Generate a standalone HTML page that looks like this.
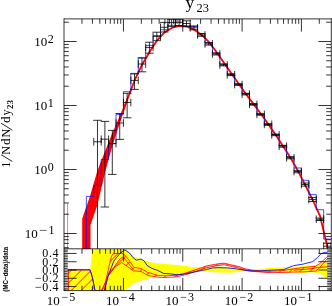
<!DOCTYPE html>
<html><head><meta charset="utf-8"><title>y23</title>
<style>
html,body{margin:0;padding:0;background:#fff;}
body{width:332px;height:306px;overflow:hidden;font-family:"Liberation Serif",serif;}
svg{display:block;will-change:transform;}
</style></head>
<body>
<svg width="332" height="306" viewBox="0 0 332 306">
<rect x="0" y="0" width="332" height="306" fill="#fff"/>
<polygon points="90.2,269.7 92.3,248.9 125.8,248.9 130,252.8 134.9,257 142.1,259 148,261.2 154,262.7 162,263.5 174,264.6 184.4,265.6 193.8,267 201.7,267.4 211,267 220,266.6 229.4,267.3 238.8,268.5 246.7,269.3 254.5,269.3 262.4,268.5 270,267.4 284,267.3 295.4,266.4 306.8,265.4 318.2,264.5 322,262.6 327.5,261.2 327.5,278.3 324.8,276.8 320,273 312.5,272 303,272.4 284,272 270,271.7 262.4,271.4 254.5,270.9 246.7,271.2 238.8,271.7 229.4,272.5 220,272.3 215.8,272.1 206.4,271.6 198.5,271.6 190.7,272.4 182.8,274 175,275.3 162,276 158,276 151.7,277.1 145.7,278.9 139.7,280.7 133.7,283.1 128.8,287.3 124.6,290.5 67.8,290.5 67.8,269.7" fill="#ffff00" stroke="none" stroke-width="0" transform="translate(0,0.25)"/>
<clipPath id="cr"><rect x="64" y="248.9" width="267" height="41.6"/></clipPath>
<clipPath id="cb"><polygon points="67.8,269.7 90,269.7 92,275 95,290.5 101.3,290.5 105.3,282.6 109.2,265.4 111.5,256 113,253.6 121.7,252.8 125,255 129.6,260.7 133.9,267.2 139.4,268 142.5,269 147.3,272 153.5,273.8 158.2,275.3 166,275.6 175,275.2 182.8,273.6 190.7,271.1 198.5,268.4 206.4,265.7 214.2,264.2 222,263 224.7,263 231,264.6 238.8,266.3 245.1,268.6 251.4,269.8 259.2,270.4 267,271 275,270.8 284,270.2 293.5,268.6 303,267.3 315.3,266 319.4,263.6 327.5,256.3 327.5,258.2 318.8,268.4 315.3,270.9 303,271.7 293.5,271.8 284,272.2 275,272.3 267,272.3 259.2,271.6 251.4,271.1 245.1,270 238.8,267.8 231,266.1 224.7,264.6 222,264.7 214.2,265.9 206.4,267.5 198.5,270.2 190.7,272.9 182.8,275.2 175,276.8 169.2,277 161.4,277.3 155.1,276.5 148,275.2 141,271.2 133.5,270.6 127.2,266.2 121.7,262.3 115.5,266.2 107.6,276.4 104,290.5 95,290.5 67.8,290.5"/></clipPath>
<g clip-path="url(#cr)"><g transform="translate(0,0.25)">
<g clip-path="url(#cb)">
<rect x="176" y="248" width="94" height="44" fill="#ff0000" fill-opacity="0.3"/>
<line x1="61.3" y1="240" x2="1.3" y2="300" stroke="#ff0000" stroke-width="0.9" />
<line x1="71.3" y1="240" x2="11.3" y2="300" stroke="#ff0000" stroke-width="0.9" />
<line x1="81.3" y1="240" x2="21.3" y2="300" stroke="#ff0000" stroke-width="0.9" />
<line x1="91.3" y1="240" x2="31.3" y2="300" stroke="#ff0000" stroke-width="0.9" />
<line x1="101.3" y1="240" x2="41.3" y2="300" stroke="#ff0000" stroke-width="0.9" />
<line x1="111.3" y1="240" x2="51.3" y2="300" stroke="#ff0000" stroke-width="0.9" />
<line x1="121.3" y1="240" x2="61.3" y2="300" stroke="#ff0000" stroke-width="0.9" />
<line x1="131.3" y1="240" x2="71.3" y2="300" stroke="#ff0000" stroke-width="0.9" />
<line x1="141.3" y1="240" x2="81.3" y2="300" stroke="#ff0000" stroke-width="0.9" />
<line x1="151.3" y1="240" x2="91.3" y2="300" stroke="#ff0000" stroke-width="0.9" />
<line x1="161.3" y1="240" x2="101.3" y2="300" stroke="#ff0000" stroke-width="0.9" />
<line x1="171.3" y1="240" x2="111.3" y2="300" stroke="#ff0000" stroke-width="0.9" />
<line x1="181.3" y1="240" x2="121.3" y2="300" stroke="#ff0000" stroke-width="0.9" />
<line x1="191.3" y1="240" x2="131.3" y2="300" stroke="#ff0000" stroke-width="0.9" />
<line x1="201.3" y1="240" x2="141.3" y2="300" stroke="#ff0000" stroke-width="0.9" />
<line x1="211.3" y1="240" x2="151.3" y2="300" stroke="#ff0000" stroke-width="0.9" />
<line x1="221.3" y1="240" x2="161.3" y2="300" stroke="#ff0000" stroke-width="0.9" />
<line x1="231.3" y1="240" x2="171.3" y2="300" stroke="#ff0000" stroke-width="0.9" />
<line x1="241.3" y1="240" x2="181.3" y2="300" stroke="#ff0000" stroke-width="0.9" />
<line x1="251.3" y1="240" x2="191.3" y2="300" stroke="#ff0000" stroke-width="0.9" />
<line x1="261.3" y1="240" x2="201.3" y2="300" stroke="#ff0000" stroke-width="0.9" />
<line x1="271.3" y1="240" x2="211.3" y2="300" stroke="#ff0000" stroke-width="0.9" />
<line x1="281.3" y1="240" x2="221.3" y2="300" stroke="#ff0000" stroke-width="0.9" />
<line x1="291.3" y1="240" x2="231.3" y2="300" stroke="#ff0000" stroke-width="0.9" />
<line x1="301.3" y1="240" x2="241.3" y2="300" stroke="#ff0000" stroke-width="0.9" />
<line x1="311.3" y1="240" x2="251.3" y2="300" stroke="#ff0000" stroke-width="0.9" />
<line x1="321.3" y1="240" x2="261.3" y2="300" stroke="#ff0000" stroke-width="0.9" />
<line x1="331.3" y1="240" x2="271.3" y2="300" stroke="#ff0000" stroke-width="0.9" />
<line x1="341.3" y1="240" x2="281.3" y2="300" stroke="#ff0000" stroke-width="0.9" />
<line x1="351.3" y1="240" x2="291.3" y2="300" stroke="#ff0000" stroke-width="0.9" />
<line x1="361.3" y1="240" x2="301.3" y2="300" stroke="#ff0000" stroke-width="0.9" />
<line x1="371.3" y1="240" x2="311.3" y2="300" stroke="#ff0000" stroke-width="0.9" />
<line x1="381.3" y1="240" x2="321.3" y2="300" stroke="#ff0000" stroke-width="0.9" />
<line x1="391.3" y1="240" x2="331.3" y2="300" stroke="#ff0000" stroke-width="0.9" />
</g>
<polyline points="67.8,269.7 90,269.7 92,275 95,290.5 101.3,290.5 105.3,282.6 109.2,265.4 111.5,256 113,253.6 121.7,252.8 125,255 129.6,260.7 133.9,267.2 139.4,268 142.5,269 147.3,272 153.5,273.8 158.2,275.3 166,275.6 175,275.2 182.8,273.6 190.7,271.1 198.5,268.4 206.4,265.7 214.2,264.2 222,263 224.7,263 231,264.6 238.8,266.3 245.1,268.6 251.4,269.8 259.2,270.4 267,271 275,270.8 284,270.2 293.5,268.6 303,267.3 315.3,266 319.4,263.6 327.5,256.3" stroke="#ff0000" stroke-width="0.8" fill="none" />
<polyline points="104,290.5 107.6,276.4 115.5,266.2 121.7,262.3 127.2,266.2 133.5,270.6 141,271.2 148,275.2 155.1,276.5 161.4,277.3 169.2,277 175,276.8 182.8,275.2 190.7,272.9 198.5,270.2 206.4,267.5 214.2,265.9 222,264.7 224.7,264.6 231,266.1 238.8,267.8 245.1,270 251.4,271.1 259.2,271.6 267,272.3 275,272.3 284,272.2 293.5,271.8 303,271.7 315.3,270.9 318.8,268.4 327.5,258.2" stroke="#ff0000" stroke-width="0.8" fill="none" />
<polyline points="102,290.5 107.6,276.4 116.2,263.8 120.2,258.3 123.3,256.8 128.8,263.8 133.5,269.3" stroke="#ff0000" stroke-width="0.8" fill="none" />
<line x1="68.4" y1="269.7" x2="68.4" y2="290.5" stroke="#ff0000" stroke-width="0.9" />
<polyline points="293.5,269.9 303,269.2 311.8,268.4 317.6,267.2 327.5,266.6" stroke="#ff0000" stroke-width="0.9" fill="none" />
<polyline points="67.8,269.5 90,269.5 92.7,278.7 95,290.5 104.5,290.5 108.4,274.8 113.9,260.7 120.2,252.8 124.9,249.7 129.6,252.8 133.1,257.5 136.3,259.9 141,258.8 144.1,260.7 147.3,265.4 152,268.2 157.5,270.1 163.7,273.2 170.8,273.7 177,274.5 182.8,274 190.7,272.5 198.5,270.9 206.4,269.3 212.6,267.7 218.9,267.4 227.8,267.7 235.7,268.5 243.5,269.8 251.4,270.6 259.2,270.9 267,270.1 275,269.8 284,269.2 293.5,265.4 303,263.9 312.9,261.3 317.6,257.2 321.2,253.3 325.3,252.1 327.5,252" stroke="#0000ff" stroke-width="0.85" fill="none" />
</g></g>
<clipPath id="cm"><rect x="64" y="19" width="267" height="230"/></clipPath>
<g clip-path="url(#cm)">
<polygon points="82.2,249 82.2,218.5 90.06,196 97.5,170.5 104.9,151.5 112.3,133 119.8,116 127.2,97.3 127.2,101.5 119.8,123.3 112.3,146.3 104.9,173 97.5,204.7 90.5,225 90.5,249" fill="#ff0000" stroke="none" stroke-width="0" />
<polyline points="123.5,110 127.2,99.7 134.65,80.2 142.07,64.7 149.5,52 156.9,40.6 164.3,32.6 171.75,27.9 179.2,25.9 186.6,26.5 194,29.6 201.4,34.7 208.85,41.9 216.3,51.7 223.7,62.4 231.1,73 238.5,83.5 245.9,94 253.4,103.9 260.8,113.7 268.2,124 275.6,134.8 283,145.9 290.4,157.6 297.9,170.6 305.3,185.3 312.7,200 320.1,216.2 327.5,247" stroke="#ff0000" stroke-width="1.8" fill="none" stroke-linejoin="round"/>
<line x1="67.6" y1="203.5" x2="67.6" y2="249" stroke="#ff5050" stroke-width="0.8" />
<polyline points="86.35,249 86.35,196.4 93.76,196.4 93.76,185.3 101.18,185.3 101.18,159.4 108.6,159.4 108.6,143.7 116.01,143.7 116.01,114.6 123.43,114.6 123.43,91.7 130.85,91.7 130.85,73.4 138.26,73.4 138.26,58.1 145.68,58.1 145.68,45.4 153.09,45.4 153.09,35.6 160.51,35.6 160.51,29.7 167.93,29.7 167.93,25.3 175.34,25.3 175.34,25.6 182.76,25.6 182.76,26 190.18,26 190.18,26.5 197.59,26.5 197.59,33.5 205.01,33.5 205.01,42.5 212.42,42.5 212.42,53 219.84,53 219.84,64 227.26,64 227.26,74 234.67,74 234.67,84 242.09,84 242.09,93.6 249.51,93.6 249.51,104 256.92,104 256.92,114.8 264.34,114.8 264.34,125.2 271.75,125.2 271.75,134.5 279.17,134.5 279.17,145.4 286.59,145.4 286.59,157 294,157 294,168 301.42,168 301.42,180.3 308.84,180.3 308.84,194.6 316.25,194.6 316.25,209.7 323.67,209.7 323.67,239.1 331.09,239.1" stroke="#0000ff" stroke-width="0.7" fill="none" />
<line x1="93.76" y1="141.8" x2="101.18" y2="141.8" stroke="#000" stroke-width="0.8" />
<line x1="93.76" y1="138" x2="93.76" y2="145.6" stroke="#000" stroke-width="0.8" />
<line x1="101.18" y1="138" x2="101.18" y2="145.6" stroke="#000" stroke-width="0.8" />
<line x1="97.47" y1="120.3" x2="97.47" y2="260" stroke="#000" stroke-width="0.8" />
<line x1="93.17" y1="120.3" x2="101.77" y2="120.3" stroke="#000" stroke-width="0.8" />
<line x1="93.17" y1="260" x2="101.77" y2="260" stroke="#000" stroke-width="0.8" />
<line x1="101.18" y1="139.2" x2="108.6" y2="139.2" stroke="#000" stroke-width="0.8" />
<line x1="101.18" y1="135.4" x2="101.18" y2="143" stroke="#000" stroke-width="0.8" />
<line x1="108.6" y1="135.4" x2="108.6" y2="143" stroke="#000" stroke-width="0.8" />
<line x1="104.89" y1="121.4" x2="104.89" y2="207" stroke="#000" stroke-width="0.8" />
<line x1="100.59" y1="121.4" x2="109.19" y2="121.4" stroke="#000" stroke-width="0.8" />
<line x1="100.59" y1="207" x2="109.19" y2="207" stroke="#000" stroke-width="0.8" />
<line x1="108.6" y1="143.6" x2="116.01" y2="143.6" stroke="#000" stroke-width="0.8" />
<line x1="108.6" y1="139.8" x2="108.6" y2="147.4" stroke="#000" stroke-width="0.8" />
<line x1="116.01" y1="139.8" x2="116.01" y2="147.4" stroke="#000" stroke-width="0.8" />
<line x1="112.31" y1="130.4" x2="112.31" y2="174.4" stroke="#000" stroke-width="0.8" />
<line x1="108.01" y1="130.4" x2="116.61" y2="130.4" stroke="#000" stroke-width="0.8" />
<line x1="108.01" y1="174.4" x2="116.61" y2="174.4" stroke="#000" stroke-width="0.8" />
<line x1="116.01" y1="123" x2="123.43" y2="123" stroke="#000" stroke-width="0.8" />
<line x1="116.01" y1="119.2" x2="116.01" y2="126.8" stroke="#000" stroke-width="0.8" />
<line x1="123.43" y1="119.2" x2="123.43" y2="126.8" stroke="#000" stroke-width="0.8" />
<line x1="119.72" y1="113.5" x2="119.72" y2="139.4" stroke="#000" stroke-width="0.8" />
<line x1="115.42" y1="113.5" x2="124.02" y2="113.5" stroke="#000" stroke-width="0.8" />
<line x1="115.42" y1="139.4" x2="124.02" y2="139.4" stroke="#000" stroke-width="0.8" />
<line x1="123.43" y1="102.5" x2="130.85" y2="102.5" stroke="#000" stroke-width="0.8" />
<line x1="123.43" y1="98.7" x2="123.43" y2="106.3" stroke="#000" stroke-width="0.8" />
<line x1="130.85" y1="98.7" x2="130.85" y2="106.3" stroke="#000" stroke-width="0.8" />
<line x1="127.14" y1="93.3" x2="127.14" y2="117.8" stroke="#000" stroke-width="0.8" />
<line x1="122.84" y1="93.3" x2="131.44" y2="93.3" stroke="#000" stroke-width="0.8" />
<line x1="122.84" y1="117.8" x2="131.44" y2="117.8" stroke="#000" stroke-width="0.8" />
<line x1="130.85" y1="80.4" x2="138.26" y2="80.4" stroke="#000" stroke-width="0.8" />
<line x1="130.85" y1="76.6" x2="130.85" y2="84.2" stroke="#000" stroke-width="0.8" />
<line x1="138.26" y1="76.6" x2="138.26" y2="84.2" stroke="#000" stroke-width="0.8" />
<line x1="134.55" y1="73.9" x2="134.55" y2="89.4" stroke="#000" stroke-width="0.8" />
<line x1="130.25" y1="73.9" x2="138.85" y2="73.9" stroke="#000" stroke-width="0.8" />
<line x1="130.25" y1="89.4" x2="138.85" y2="89.4" stroke="#000" stroke-width="0.8" />
<line x1="138.26" y1="64" x2="145.68" y2="64" stroke="#000" stroke-width="0.8" />
<line x1="138.26" y1="60.2" x2="138.26" y2="67.8" stroke="#000" stroke-width="0.8" />
<line x1="145.68" y1="60.2" x2="145.68" y2="67.8" stroke="#000" stroke-width="0.8" />
<line x1="141.97" y1="57.8" x2="141.97" y2="71.8" stroke="#000" stroke-width="0.8" />
<line x1="137.67" y1="57.8" x2="146.27" y2="57.8" stroke="#000" stroke-width="0.8" />
<line x1="137.67" y1="71.8" x2="146.27" y2="71.8" stroke="#000" stroke-width="0.8" />
<line x1="145.68" y1="47.4" x2="153.09" y2="47.4" stroke="#000" stroke-width="0.8" />
<line x1="145.68" y1="43.6" x2="145.68" y2="51.2" stroke="#000" stroke-width="0.8" />
<line x1="153.09" y1="43.6" x2="153.09" y2="51.2" stroke="#000" stroke-width="0.8" />
<line x1="149.39" y1="42.2" x2="149.39" y2="53.2" stroke="#000" stroke-width="0.8" />
<line x1="145.09" y1="42.2" x2="153.69" y2="42.2" stroke="#000" stroke-width="0.8" />
<line x1="145.09" y1="53.2" x2="153.69" y2="53.2" stroke="#000" stroke-width="0.8" />
<line x1="153.09" y1="36.4" x2="160.51" y2="36.4" stroke="#000" stroke-width="0.8" />
<line x1="153.09" y1="32.6" x2="153.09" y2="40.2" stroke="#000" stroke-width="0.8" />
<line x1="160.51" y1="32.6" x2="160.51" y2="40.2" stroke="#000" stroke-width="0.8" />
<line x1="156.8" y1="32.2" x2="156.8" y2="40.7" stroke="#000" stroke-width="0.8" />
<line x1="152.5" y1="32.2" x2="161.1" y2="32.2" stroke="#000" stroke-width="0.8" />
<line x1="152.5" y1="40.7" x2="161.1" y2="40.7" stroke="#000" stroke-width="0.8" />
<line x1="160.51" y1="27.3" x2="167.93" y2="27.3" stroke="#000" stroke-width="0.8" />
<line x1="160.51" y1="23.5" x2="160.51" y2="31.1" stroke="#000" stroke-width="0.8" />
<line x1="167.93" y1="23.5" x2="167.93" y2="31.1" stroke="#000" stroke-width="0.8" />
<line x1="164.22" y1="22.4" x2="164.22" y2="32" stroke="#000" stroke-width="0.8" />
<line x1="159.92" y1="22.4" x2="168.52" y2="22.4" stroke="#000" stroke-width="0.8" />
<line x1="159.92" y1="32" x2="168.52" y2="32" stroke="#000" stroke-width="0.8" />
<line x1="167.93" y1="22.6" x2="175.34" y2="22.6" stroke="#000" stroke-width="0.8" />
<line x1="167.93" y1="18.8" x2="167.93" y2="26.4" stroke="#000" stroke-width="0.8" />
<line x1="175.34" y1="18.8" x2="175.34" y2="26.4" stroke="#000" stroke-width="0.8" />
<line x1="171.64" y1="19.2" x2="171.64" y2="26.4" stroke="#000" stroke-width="0.8" />
<line x1="167.34" y1="19.2" x2="175.94" y2="19.2" stroke="#000" stroke-width="0.8" />
<line x1="167.34" y1="26.4" x2="175.94" y2="26.4" stroke="#000" stroke-width="0.8" />
<line x1="175.34" y1="22.3" x2="182.76" y2="22.3" stroke="#000" stroke-width="0.8" />
<line x1="175.34" y1="18.5" x2="175.34" y2="26.1" stroke="#000" stroke-width="0.8" />
<line x1="182.76" y1="18.5" x2="182.76" y2="26.1" stroke="#000" stroke-width="0.8" />
<line x1="179.05" y1="19.2" x2="179.05" y2="25.6" stroke="#000" stroke-width="0.8" />
<line x1="174.75" y1="19.2" x2="183.35" y2="19.2" stroke="#000" stroke-width="0.8" />
<line x1="174.75" y1="25.6" x2="183.35" y2="25.6" stroke="#000" stroke-width="0.8" />
<line x1="182.76" y1="23.5" x2="190.18" y2="23.5" stroke="#000" stroke-width="0.8" />
<line x1="182.76" y1="19.7" x2="182.76" y2="27.3" stroke="#000" stroke-width="0.8" />
<line x1="190.18" y1="19.7" x2="190.18" y2="27.3" stroke="#000" stroke-width="0.8" />
<line x1="186.47" y1="20.8" x2="186.47" y2="26.3" stroke="#000" stroke-width="0.8" />
<line x1="182.17" y1="20.8" x2="190.77" y2="20.8" stroke="#000" stroke-width="0.8" />
<line x1="182.17" y1="26.3" x2="190.77" y2="26.3" stroke="#000" stroke-width="0.8" />
<line x1="190.18" y1="27.8" x2="197.59" y2="27.8" stroke="#000" stroke-width="0.8" />
<line x1="190.18" y1="24" x2="190.18" y2="31.6" stroke="#000" stroke-width="0.8" />
<line x1="197.59" y1="24" x2="197.59" y2="31.6" stroke="#000" stroke-width="0.8" />
<line x1="193.88" y1="25.9" x2="193.88" y2="29.8" stroke="#000" stroke-width="0.8" />
<line x1="189.58" y1="25.9" x2="198.18" y2="25.9" stroke="#000" stroke-width="0.8" />
<line x1="189.58" y1="29.8" x2="198.18" y2="29.8" stroke="#000" stroke-width="0.8" />
<line x1="197.59" y1="35" x2="205.01" y2="35" stroke="#000" stroke-width="0.8" />
<line x1="197.59" y1="31.2" x2="197.59" y2="38.8" stroke="#000" stroke-width="0.8" />
<line x1="205.01" y1="31.2" x2="205.01" y2="38.8" stroke="#000" stroke-width="0.8" />
<line x1="201.3" y1="33.7" x2="201.3" y2="36.3" stroke="#000" stroke-width="0.8" />
<line x1="197" y1="33.7" x2="205.6" y2="33.7" stroke="#000" stroke-width="0.8" />
<line x1="197" y1="36.3" x2="205.6" y2="36.3" stroke="#000" stroke-width="0.8" />
<line x1="205.01" y1="43.9" x2="212.42" y2="43.9" stroke="#000" stroke-width="0.8" />
<line x1="205.01" y1="40.1" x2="205.01" y2="47.7" stroke="#000" stroke-width="0.8" />
<line x1="212.42" y1="40.1" x2="212.42" y2="47.7" stroke="#000" stroke-width="0.8" />
<line x1="208.72" y1="42.8" x2="208.72" y2="45.1" stroke="#000" stroke-width="0.8" />
<line x1="204.42" y1="42.8" x2="213.02" y2="42.8" stroke="#000" stroke-width="0.8" />
<line x1="204.42" y1="45.1" x2="213.02" y2="45.1" stroke="#000" stroke-width="0.8" />
<line x1="212.42" y1="54" x2="219.84" y2="54" stroke="#000" stroke-width="0.8" />
<line x1="212.42" y1="50.2" x2="212.42" y2="57.8" stroke="#000" stroke-width="0.8" />
<line x1="219.84" y1="50.2" x2="219.84" y2="57.8" stroke="#000" stroke-width="0.8" />
<line x1="216.13" y1="53" x2="216.13" y2="55" stroke="#000" stroke-width="0.8" />
<line x1="211.83" y1="53" x2="220.43" y2="53" stroke="#000" stroke-width="0.8" />
<line x1="211.83" y1="55" x2="220.43" y2="55" stroke="#000" stroke-width="0.8" />
<line x1="219.84" y1="65" x2="227.26" y2="65" stroke="#000" stroke-width="0.8" />
<line x1="219.84" y1="61.2" x2="219.84" y2="68.8" stroke="#000" stroke-width="0.8" />
<line x1="227.26" y1="61.2" x2="227.26" y2="68.8" stroke="#000" stroke-width="0.8" />
<line x1="223.55" y1="64.1" x2="223.55" y2="65.9" stroke="#000" stroke-width="0.8" />
<line x1="219.25" y1="64.1" x2="227.85" y2="64.1" stroke="#000" stroke-width="0.8" />
<line x1="219.25" y1="65.9" x2="227.85" y2="65.9" stroke="#000" stroke-width="0.8" />
<line x1="227.26" y1="74.8" x2="234.67" y2="74.8" stroke="#000" stroke-width="0.8" />
<line x1="227.26" y1="71" x2="227.26" y2="78.6" stroke="#000" stroke-width="0.8" />
<line x1="234.67" y1="71" x2="234.67" y2="78.6" stroke="#000" stroke-width="0.8" />
<line x1="230.97" y1="74" x2="230.97" y2="75.6" stroke="#000" stroke-width="0.8" />
<line x1="226.67" y1="74" x2="235.27" y2="74" stroke="#000" stroke-width="0.8" />
<line x1="226.67" y1="75.6" x2="235.27" y2="75.6" stroke="#000" stroke-width="0.8" />
<line x1="234.67" y1="84.6" x2="242.09" y2="84.6" stroke="#000" stroke-width="0.8" />
<line x1="234.67" y1="80.8" x2="234.67" y2="88.4" stroke="#000" stroke-width="0.8" />
<line x1="242.09" y1="80.8" x2="242.09" y2="88.4" stroke="#000" stroke-width="0.8" />
<line x1="238.38" y1="83.8" x2="238.38" y2="85.4" stroke="#000" stroke-width="0.8" />
<line x1="234.08" y1="83.8" x2="242.68" y2="83.8" stroke="#000" stroke-width="0.8" />
<line x1="234.08" y1="85.4" x2="242.68" y2="85.4" stroke="#000" stroke-width="0.8" />
<line x1="242.09" y1="94.1" x2="249.51" y2="94.1" stroke="#000" stroke-width="0.8" />
<line x1="242.09" y1="90.3" x2="242.09" y2="97.9" stroke="#000" stroke-width="0.8" />
<line x1="249.51" y1="90.3" x2="249.51" y2="97.9" stroke="#000" stroke-width="0.8" />
<line x1="245.8" y1="93.3" x2="245.8" y2="94.9" stroke="#000" stroke-width="0.8" />
<line x1="241.5" y1="93.3" x2="250.1" y2="93.3" stroke="#000" stroke-width="0.8" />
<line x1="241.5" y1="94.9" x2="250.1" y2="94.9" stroke="#000" stroke-width="0.8" />
<line x1="249.51" y1="104.4" x2="256.92" y2="104.4" stroke="#000" stroke-width="0.8" />
<line x1="249.51" y1="100.6" x2="249.51" y2="108.2" stroke="#000" stroke-width="0.8" />
<line x1="256.92" y1="100.6" x2="256.92" y2="108.2" stroke="#000" stroke-width="0.8" />
<line x1="253.21" y1="103.6" x2="253.21" y2="105.2" stroke="#000" stroke-width="0.8" />
<line x1="248.91" y1="103.6" x2="257.51" y2="103.6" stroke="#000" stroke-width="0.8" />
<line x1="248.91" y1="105.2" x2="257.51" y2="105.2" stroke="#000" stroke-width="0.8" />
<line x1="256.92" y1="114.4" x2="264.34" y2="114.4" stroke="#000" stroke-width="0.8" />
<line x1="256.92" y1="110.6" x2="256.92" y2="118.2" stroke="#000" stroke-width="0.8" />
<line x1="264.34" y1="110.6" x2="264.34" y2="118.2" stroke="#000" stroke-width="0.8" />
<line x1="260.63" y1="113.6" x2="260.63" y2="115.2" stroke="#000" stroke-width="0.8" />
<line x1="256.33" y1="113.6" x2="264.93" y2="113.6" stroke="#000" stroke-width="0.8" />
<line x1="256.33" y1="115.2" x2="264.93" y2="115.2" stroke="#000" stroke-width="0.8" />
<line x1="264.34" y1="124.4" x2="271.75" y2="124.4" stroke="#000" stroke-width="0.8" />
<line x1="264.34" y1="120.6" x2="264.34" y2="128.2" stroke="#000" stroke-width="0.8" />
<line x1="271.75" y1="120.6" x2="271.75" y2="128.2" stroke="#000" stroke-width="0.8" />
<line x1="268.05" y1="123.6" x2="268.05" y2="125.2" stroke="#000" stroke-width="0.8" />
<line x1="263.75" y1="123.6" x2="272.35" y2="123.6" stroke="#000" stroke-width="0.8" />
<line x1="263.75" y1="125.2" x2="272.35" y2="125.2" stroke="#000" stroke-width="0.8" />
<line x1="271.75" y1="134.9" x2="279.17" y2="134.9" stroke="#000" stroke-width="0.8" />
<line x1="271.75" y1="131.1" x2="271.75" y2="138.7" stroke="#000" stroke-width="0.8" />
<line x1="279.17" y1="131.1" x2="279.17" y2="138.7" stroke="#000" stroke-width="0.8" />
<line x1="275.46" y1="134.1" x2="275.46" y2="135.7" stroke="#000" stroke-width="0.8" />
<line x1="271.16" y1="134.1" x2="279.76" y2="134.1" stroke="#000" stroke-width="0.8" />
<line x1="271.16" y1="135.7" x2="279.76" y2="135.7" stroke="#000" stroke-width="0.8" />
<line x1="279.17" y1="146.2" x2="286.59" y2="146.2" stroke="#000" stroke-width="0.8" />
<line x1="279.17" y1="142.4" x2="279.17" y2="150" stroke="#000" stroke-width="0.8" />
<line x1="286.59" y1="142.4" x2="286.59" y2="150" stroke="#000" stroke-width="0.8" />
<line x1="282.88" y1="145.4" x2="282.88" y2="147.2" stroke="#000" stroke-width="0.8" />
<line x1="278.58" y1="145.4" x2="287.18" y2="145.4" stroke="#000" stroke-width="0.8" />
<line x1="278.58" y1="147.2" x2="287.18" y2="147.2" stroke="#000" stroke-width="0.8" />
<line x1="286.59" y1="157.8" x2="294" y2="157.8" stroke="#000" stroke-width="0.8" />
<line x1="286.59" y1="154" x2="286.59" y2="161.6" stroke="#000" stroke-width="0.8" />
<line x1="294" y1="154" x2="294" y2="161.6" stroke="#000" stroke-width="0.8" />
<line x1="290.3" y1="156.8" x2="290.3" y2="158.8" stroke="#000" stroke-width="0.8" />
<line x1="286" y1="156.8" x2="294.6" y2="156.8" stroke="#000" stroke-width="0.8" />
<line x1="286" y1="158.8" x2="294.6" y2="158.8" stroke="#000" stroke-width="0.8" />
<line x1="294" y1="171.5" x2="301.42" y2="171.5" stroke="#000" stroke-width="0.8" />
<line x1="294" y1="167.7" x2="294" y2="175.3" stroke="#000" stroke-width="0.8" />
<line x1="301.42" y1="167.7" x2="301.42" y2="175.3" stroke="#000" stroke-width="0.8" />
<line x1="297.71" y1="170.4" x2="297.71" y2="172.8" stroke="#000" stroke-width="0.8" />
<line x1="293.41" y1="170.4" x2="302.01" y2="170.4" stroke="#000" stroke-width="0.8" />
<line x1="293.41" y1="172.8" x2="302.01" y2="172.8" stroke="#000" stroke-width="0.8" />
<line x1="301.42" y1="184.5" x2="308.84" y2="184.5" stroke="#000" stroke-width="0.8" />
<line x1="301.42" y1="180.7" x2="301.42" y2="188.3" stroke="#000" stroke-width="0.8" />
<line x1="308.84" y1="180.7" x2="308.84" y2="188.3" stroke="#000" stroke-width="0.8" />
<line x1="305.13" y1="183" x2="305.13" y2="186.1" stroke="#000" stroke-width="0.8" />
<line x1="300.83" y1="183" x2="309.43" y2="183" stroke="#000" stroke-width="0.8" />
<line x1="300.83" y1="186.1" x2="309.43" y2="186.1" stroke="#000" stroke-width="0.8" />
<line x1="308.84" y1="199.6" x2="316.25" y2="199.6" stroke="#000" stroke-width="0.8" />
<line x1="308.84" y1="195.8" x2="308.84" y2="203.4" stroke="#000" stroke-width="0.8" />
<line x1="316.25" y1="195.8" x2="316.25" y2="203.4" stroke="#000" stroke-width="0.8" />
<line x1="312.54" y1="197.6" x2="312.54" y2="201.5" stroke="#000" stroke-width="0.8" />
<line x1="308.24" y1="197.6" x2="316.84" y2="197.6" stroke="#000" stroke-width="0.8" />
<line x1="308.24" y1="201.5" x2="316.84" y2="201.5" stroke="#000" stroke-width="0.8" />
<line x1="316.25" y1="219.3" x2="323.67" y2="219.3" stroke="#000" stroke-width="0.8" />
<line x1="316.25" y1="215.5" x2="316.25" y2="223.1" stroke="#000" stroke-width="0.8" />
<line x1="323.67" y1="215.5" x2="323.67" y2="223.1" stroke="#000" stroke-width="0.8" />
<line x1="319.96" y1="218.1" x2="319.96" y2="220.5" stroke="#000" stroke-width="0.8" />
<line x1="315.66" y1="218.1" x2="324.26" y2="218.1" stroke="#000" stroke-width="0.8" />
<line x1="315.66" y1="220.5" x2="324.26" y2="220.5" stroke="#000" stroke-width="0.8" />
<line x1="323.67" y1="246.2" x2="331.09" y2="246.2" stroke="#000" stroke-width="0.8" />
<line x1="323.67" y1="242.4" x2="323.67" y2="250" stroke="#000" stroke-width="0.8" />
<line x1="331.09" y1="242.4" x2="331.09" y2="250" stroke="#000" stroke-width="0.8" />
<line x1="327.38" y1="243.2" x2="327.38" y2="249.5" stroke="#000" stroke-width="0.8" />
<line x1="323.08" y1="243.2" x2="331.68" y2="243.2" stroke="#000" stroke-width="0.8" />
<line x1="323.08" y1="249.5" x2="331.68" y2="249.5" stroke="#000" stroke-width="0.8" />
</g>
<line x1="64" y1="18.9" x2="331.8" y2="18.9" stroke="#000" stroke-width="0.8" />
<line x1="64" y1="248.8" x2="331.8" y2="248.8" stroke="#000" stroke-width="0.8" />
<line x1="64" y1="290.6" x2="331.8" y2="290.6" stroke="#000" stroke-width="0.8" />
<line x1="64" y1="18.4" x2="64" y2="291.1" stroke="#000" stroke-width="0.8" />
<line x1="331.3" y1="18.4" x2="331.3" y2="291.1" stroke="#000" stroke-width="0.8" />
<line x1="81.96" y1="19" x2="81.96" y2="23.8" stroke="#000" stroke-width="0.8" />
<line x1="81.96" y1="249" x2="81.96" y2="253.8" stroke="#000" stroke-width="0.8" />
<line x1="81.96" y1="290.5" x2="81.96" y2="285.7" stroke="#000" stroke-width="0.8" />
<line x1="92.41" y1="19" x2="92.41" y2="23.8" stroke="#000" stroke-width="0.8" />
<line x1="92.41" y1="249" x2="92.41" y2="253.8" stroke="#000" stroke-width="0.8" />
<line x1="92.41" y1="290.5" x2="92.41" y2="285.7" stroke="#000" stroke-width="0.8" />
<line x1="99.82" y1="19" x2="99.82" y2="23.8" stroke="#000" stroke-width="0.8" />
<line x1="99.82" y1="249" x2="99.82" y2="253.8" stroke="#000" stroke-width="0.8" />
<line x1="99.82" y1="290.5" x2="99.82" y2="285.7" stroke="#000" stroke-width="0.8" />
<line x1="105.57" y1="19" x2="105.57" y2="23.8" stroke="#000" stroke-width="0.8" />
<line x1="105.57" y1="249" x2="105.57" y2="253.8" stroke="#000" stroke-width="0.8" />
<line x1="105.57" y1="290.5" x2="105.57" y2="285.7" stroke="#000" stroke-width="0.8" />
<line x1="110.27" y1="19" x2="110.27" y2="23.8" stroke="#000" stroke-width="0.8" />
<line x1="110.27" y1="249" x2="110.27" y2="253.8" stroke="#000" stroke-width="0.8" />
<line x1="110.27" y1="290.5" x2="110.27" y2="285.7" stroke="#000" stroke-width="0.8" />
<line x1="114.24" y1="19" x2="114.24" y2="23.8" stroke="#000" stroke-width="0.8" />
<line x1="114.24" y1="249" x2="114.24" y2="253.8" stroke="#000" stroke-width="0.8" />
<line x1="114.24" y1="290.5" x2="114.24" y2="285.7" stroke="#000" stroke-width="0.8" />
<line x1="117.68" y1="19" x2="117.68" y2="23.8" stroke="#000" stroke-width="0.8" />
<line x1="117.68" y1="249" x2="117.68" y2="253.8" stroke="#000" stroke-width="0.8" />
<line x1="117.68" y1="290.5" x2="117.68" y2="285.7" stroke="#000" stroke-width="0.8" />
<line x1="120.72" y1="19" x2="120.72" y2="23.8" stroke="#000" stroke-width="0.8" />
<line x1="120.72" y1="249" x2="120.72" y2="253.8" stroke="#000" stroke-width="0.8" />
<line x1="120.72" y1="290.5" x2="120.72" y2="285.7" stroke="#000" stroke-width="0.8" />
<line x1="123.43" y1="19" x2="123.43" y2="31.6" stroke="#000" stroke-width="0.8" />
<line x1="123.43" y1="249" x2="123.43" y2="261.6" stroke="#000" stroke-width="0.8" />
<line x1="123.43" y1="290.5" x2="123.43" y2="277.9" stroke="#000" stroke-width="0.8" />
<line x1="141.29" y1="19" x2="141.29" y2="23.8" stroke="#000" stroke-width="0.8" />
<line x1="141.29" y1="249" x2="141.29" y2="253.8" stroke="#000" stroke-width="0.8" />
<line x1="141.29" y1="290.5" x2="141.29" y2="285.7" stroke="#000" stroke-width="0.8" />
<line x1="151.74" y1="19" x2="151.74" y2="23.8" stroke="#000" stroke-width="0.8" />
<line x1="151.74" y1="249" x2="151.74" y2="253.8" stroke="#000" stroke-width="0.8" />
<line x1="151.74" y1="290.5" x2="151.74" y2="285.7" stroke="#000" stroke-width="0.8" />
<line x1="159.15" y1="19" x2="159.15" y2="23.8" stroke="#000" stroke-width="0.8" />
<line x1="159.15" y1="249" x2="159.15" y2="253.8" stroke="#000" stroke-width="0.8" />
<line x1="159.15" y1="290.5" x2="159.15" y2="285.7" stroke="#000" stroke-width="0.8" />
<line x1="164.9" y1="19" x2="164.9" y2="23.8" stroke="#000" stroke-width="0.8" />
<line x1="164.9" y1="249" x2="164.9" y2="253.8" stroke="#000" stroke-width="0.8" />
<line x1="164.9" y1="290.5" x2="164.9" y2="285.7" stroke="#000" stroke-width="0.8" />
<line x1="169.6" y1="19" x2="169.6" y2="23.8" stroke="#000" stroke-width="0.8" />
<line x1="169.6" y1="249" x2="169.6" y2="253.8" stroke="#000" stroke-width="0.8" />
<line x1="169.6" y1="290.5" x2="169.6" y2="285.7" stroke="#000" stroke-width="0.8" />
<line x1="173.57" y1="19" x2="173.57" y2="23.8" stroke="#000" stroke-width="0.8" />
<line x1="173.57" y1="249" x2="173.57" y2="253.8" stroke="#000" stroke-width="0.8" />
<line x1="173.57" y1="290.5" x2="173.57" y2="285.7" stroke="#000" stroke-width="0.8" />
<line x1="177.01" y1="19" x2="177.01" y2="23.8" stroke="#000" stroke-width="0.8" />
<line x1="177.01" y1="249" x2="177.01" y2="253.8" stroke="#000" stroke-width="0.8" />
<line x1="177.01" y1="290.5" x2="177.01" y2="285.7" stroke="#000" stroke-width="0.8" />
<line x1="180.05" y1="19" x2="180.05" y2="23.8" stroke="#000" stroke-width="0.8" />
<line x1="180.05" y1="249" x2="180.05" y2="253.8" stroke="#000" stroke-width="0.8" />
<line x1="180.05" y1="290.5" x2="180.05" y2="285.7" stroke="#000" stroke-width="0.8" />
<line x1="182.76" y1="19" x2="182.76" y2="31.6" stroke="#000" stroke-width="0.8" />
<line x1="182.76" y1="249" x2="182.76" y2="261.6" stroke="#000" stroke-width="0.8" />
<line x1="182.76" y1="290.5" x2="182.76" y2="277.9" stroke="#000" stroke-width="0.8" />
<line x1="200.62" y1="19" x2="200.62" y2="23.8" stroke="#000" stroke-width="0.8" />
<line x1="200.62" y1="249" x2="200.62" y2="253.8" stroke="#000" stroke-width="0.8" />
<line x1="200.62" y1="290.5" x2="200.62" y2="285.7" stroke="#000" stroke-width="0.8" />
<line x1="211.07" y1="19" x2="211.07" y2="23.8" stroke="#000" stroke-width="0.8" />
<line x1="211.07" y1="249" x2="211.07" y2="253.8" stroke="#000" stroke-width="0.8" />
<line x1="211.07" y1="290.5" x2="211.07" y2="285.7" stroke="#000" stroke-width="0.8" />
<line x1="218.48" y1="19" x2="218.48" y2="23.8" stroke="#000" stroke-width="0.8" />
<line x1="218.48" y1="249" x2="218.48" y2="253.8" stroke="#000" stroke-width="0.8" />
<line x1="218.48" y1="290.5" x2="218.48" y2="285.7" stroke="#000" stroke-width="0.8" />
<line x1="224.23" y1="19" x2="224.23" y2="23.8" stroke="#000" stroke-width="0.8" />
<line x1="224.23" y1="249" x2="224.23" y2="253.8" stroke="#000" stroke-width="0.8" />
<line x1="224.23" y1="290.5" x2="224.23" y2="285.7" stroke="#000" stroke-width="0.8" />
<line x1="228.93" y1="19" x2="228.93" y2="23.8" stroke="#000" stroke-width="0.8" />
<line x1="228.93" y1="249" x2="228.93" y2="253.8" stroke="#000" stroke-width="0.8" />
<line x1="228.93" y1="290.5" x2="228.93" y2="285.7" stroke="#000" stroke-width="0.8" />
<line x1="232.9" y1="19" x2="232.9" y2="23.8" stroke="#000" stroke-width="0.8" />
<line x1="232.9" y1="249" x2="232.9" y2="253.8" stroke="#000" stroke-width="0.8" />
<line x1="232.9" y1="290.5" x2="232.9" y2="285.7" stroke="#000" stroke-width="0.8" />
<line x1="236.34" y1="19" x2="236.34" y2="23.8" stroke="#000" stroke-width="0.8" />
<line x1="236.34" y1="249" x2="236.34" y2="253.8" stroke="#000" stroke-width="0.8" />
<line x1="236.34" y1="290.5" x2="236.34" y2="285.7" stroke="#000" stroke-width="0.8" />
<line x1="239.38" y1="19" x2="239.38" y2="23.8" stroke="#000" stroke-width="0.8" />
<line x1="239.38" y1="249" x2="239.38" y2="253.8" stroke="#000" stroke-width="0.8" />
<line x1="239.38" y1="290.5" x2="239.38" y2="285.7" stroke="#000" stroke-width="0.8" />
<line x1="242.09" y1="19" x2="242.09" y2="31.6" stroke="#000" stroke-width="0.8" />
<line x1="242.09" y1="249" x2="242.09" y2="261.6" stroke="#000" stroke-width="0.8" />
<line x1="242.09" y1="290.5" x2="242.09" y2="277.9" stroke="#000" stroke-width="0.8" />
<line x1="259.95" y1="19" x2="259.95" y2="23.8" stroke="#000" stroke-width="0.8" />
<line x1="259.95" y1="249" x2="259.95" y2="253.8" stroke="#000" stroke-width="0.8" />
<line x1="259.95" y1="290.5" x2="259.95" y2="285.7" stroke="#000" stroke-width="0.8" />
<line x1="270.4" y1="19" x2="270.4" y2="23.8" stroke="#000" stroke-width="0.8" />
<line x1="270.4" y1="249" x2="270.4" y2="253.8" stroke="#000" stroke-width="0.8" />
<line x1="270.4" y1="290.5" x2="270.4" y2="285.7" stroke="#000" stroke-width="0.8" />
<line x1="277.81" y1="19" x2="277.81" y2="23.8" stroke="#000" stroke-width="0.8" />
<line x1="277.81" y1="249" x2="277.81" y2="253.8" stroke="#000" stroke-width="0.8" />
<line x1="277.81" y1="290.5" x2="277.81" y2="285.7" stroke="#000" stroke-width="0.8" />
<line x1="283.56" y1="19" x2="283.56" y2="23.8" stroke="#000" stroke-width="0.8" />
<line x1="283.56" y1="249" x2="283.56" y2="253.8" stroke="#000" stroke-width="0.8" />
<line x1="283.56" y1="290.5" x2="283.56" y2="285.7" stroke="#000" stroke-width="0.8" />
<line x1="288.26" y1="19" x2="288.26" y2="23.8" stroke="#000" stroke-width="0.8" />
<line x1="288.26" y1="249" x2="288.26" y2="253.8" stroke="#000" stroke-width="0.8" />
<line x1="288.26" y1="290.5" x2="288.26" y2="285.7" stroke="#000" stroke-width="0.8" />
<line x1="292.23" y1="19" x2="292.23" y2="23.8" stroke="#000" stroke-width="0.8" />
<line x1="292.23" y1="249" x2="292.23" y2="253.8" stroke="#000" stroke-width="0.8" />
<line x1="292.23" y1="290.5" x2="292.23" y2="285.7" stroke="#000" stroke-width="0.8" />
<line x1="295.67" y1="19" x2="295.67" y2="23.8" stroke="#000" stroke-width="0.8" />
<line x1="295.67" y1="249" x2="295.67" y2="253.8" stroke="#000" stroke-width="0.8" />
<line x1="295.67" y1="290.5" x2="295.67" y2="285.7" stroke="#000" stroke-width="0.8" />
<line x1="298.71" y1="19" x2="298.71" y2="23.8" stroke="#000" stroke-width="0.8" />
<line x1="298.71" y1="249" x2="298.71" y2="253.8" stroke="#000" stroke-width="0.8" />
<line x1="298.71" y1="290.5" x2="298.71" y2="285.7" stroke="#000" stroke-width="0.8" />
<line x1="301.42" y1="19" x2="301.42" y2="31.6" stroke="#000" stroke-width="0.8" />
<line x1="301.42" y1="249" x2="301.42" y2="261.6" stroke="#000" stroke-width="0.8" />
<line x1="301.42" y1="290.5" x2="301.42" y2="277.9" stroke="#000" stroke-width="0.8" />
<line x1="319.28" y1="19" x2="319.28" y2="23.8" stroke="#000" stroke-width="0.8" />
<line x1="319.28" y1="249" x2="319.28" y2="253.8" stroke="#000" stroke-width="0.8" />
<line x1="319.28" y1="290.5" x2="319.28" y2="285.7" stroke="#000" stroke-width="0.8" />
<line x1="64" y1="247.7" x2="68.8" y2="247.7" stroke="#000" stroke-width="0.8" />
<line x1="331" y1="247.7" x2="326.2" y2="247.7" stroke="#000" stroke-width="0.8" />
<line x1="64" y1="243.41" x2="68.8" y2="243.41" stroke="#000" stroke-width="0.8" />
<line x1="331" y1="243.41" x2="326.2" y2="243.41" stroke="#000" stroke-width="0.8" />
<line x1="64" y1="239.7" x2="68.8" y2="239.7" stroke="#000" stroke-width="0.8" />
<line x1="331" y1="239.7" x2="326.2" y2="239.7" stroke="#000" stroke-width="0.8" />
<line x1="64" y1="236.43" x2="68.8" y2="236.43" stroke="#000" stroke-width="0.8" />
<line x1="331" y1="236.43" x2="326.2" y2="236.43" stroke="#000" stroke-width="0.8" />
<line x1="64" y1="233.5" x2="76.6" y2="233.5" stroke="#000" stroke-width="0.8" />
<line x1="331" y1="233.5" x2="318.4" y2="233.5" stroke="#000" stroke-width="0.8" />
<line x1="64" y1="214.23" x2="68.8" y2="214.23" stroke="#000" stroke-width="0.8" />
<line x1="331" y1="214.23" x2="326.2" y2="214.23" stroke="#000" stroke-width="0.8" />
<line x1="64" y1="202.96" x2="68.8" y2="202.96" stroke="#000" stroke-width="0.8" />
<line x1="331" y1="202.96" x2="326.2" y2="202.96" stroke="#000" stroke-width="0.8" />
<line x1="64" y1="194.97" x2="68.8" y2="194.97" stroke="#000" stroke-width="0.8" />
<line x1="331" y1="194.97" x2="326.2" y2="194.97" stroke="#000" stroke-width="0.8" />
<line x1="64" y1="188.77" x2="68.8" y2="188.77" stroke="#000" stroke-width="0.8" />
<line x1="331" y1="188.77" x2="326.2" y2="188.77" stroke="#000" stroke-width="0.8" />
<line x1="64" y1="183.7" x2="68.8" y2="183.7" stroke="#000" stroke-width="0.8" />
<line x1="331" y1="183.7" x2="326.2" y2="183.7" stroke="#000" stroke-width="0.8" />
<line x1="64" y1="179.41" x2="68.8" y2="179.41" stroke="#000" stroke-width="0.8" />
<line x1="331" y1="179.41" x2="326.2" y2="179.41" stroke="#000" stroke-width="0.8" />
<line x1="64" y1="175.7" x2="68.8" y2="175.7" stroke="#000" stroke-width="0.8" />
<line x1="331" y1="175.7" x2="326.2" y2="175.7" stroke="#000" stroke-width="0.8" />
<line x1="64" y1="172.43" x2="68.8" y2="172.43" stroke="#000" stroke-width="0.8" />
<line x1="331" y1="172.43" x2="326.2" y2="172.43" stroke="#000" stroke-width="0.8" />
<line x1="64" y1="169.5" x2="76.6" y2="169.5" stroke="#000" stroke-width="0.8" />
<line x1="331" y1="169.5" x2="318.4" y2="169.5" stroke="#000" stroke-width="0.8" />
<line x1="64" y1="150.23" x2="68.8" y2="150.23" stroke="#000" stroke-width="0.8" />
<line x1="331" y1="150.23" x2="326.2" y2="150.23" stroke="#000" stroke-width="0.8" />
<line x1="64" y1="138.96" x2="68.8" y2="138.96" stroke="#000" stroke-width="0.8" />
<line x1="331" y1="138.96" x2="326.2" y2="138.96" stroke="#000" stroke-width="0.8" />
<line x1="64" y1="130.97" x2="68.8" y2="130.97" stroke="#000" stroke-width="0.8" />
<line x1="331" y1="130.97" x2="326.2" y2="130.97" stroke="#000" stroke-width="0.8" />
<line x1="64" y1="124.77" x2="68.8" y2="124.77" stroke="#000" stroke-width="0.8" />
<line x1="331" y1="124.77" x2="326.2" y2="124.77" stroke="#000" stroke-width="0.8" />
<line x1="64" y1="119.7" x2="68.8" y2="119.7" stroke="#000" stroke-width="0.8" />
<line x1="331" y1="119.7" x2="326.2" y2="119.7" stroke="#000" stroke-width="0.8" />
<line x1="64" y1="115.41" x2="68.8" y2="115.41" stroke="#000" stroke-width="0.8" />
<line x1="331" y1="115.41" x2="326.2" y2="115.41" stroke="#000" stroke-width="0.8" />
<line x1="64" y1="111.7" x2="68.8" y2="111.7" stroke="#000" stroke-width="0.8" />
<line x1="331" y1="111.7" x2="326.2" y2="111.7" stroke="#000" stroke-width="0.8" />
<line x1="64" y1="108.43" x2="68.8" y2="108.43" stroke="#000" stroke-width="0.8" />
<line x1="331" y1="108.43" x2="326.2" y2="108.43" stroke="#000" stroke-width="0.8" />
<line x1="64" y1="105.5" x2="76.6" y2="105.5" stroke="#000" stroke-width="0.8" />
<line x1="331" y1="105.5" x2="318.4" y2="105.5" stroke="#000" stroke-width="0.8" />
<line x1="64" y1="86.23" x2="68.8" y2="86.23" stroke="#000" stroke-width="0.8" />
<line x1="331" y1="86.23" x2="326.2" y2="86.23" stroke="#000" stroke-width="0.8" />
<line x1="64" y1="74.96" x2="68.8" y2="74.96" stroke="#000" stroke-width="0.8" />
<line x1="331" y1="74.96" x2="326.2" y2="74.96" stroke="#000" stroke-width="0.8" />
<line x1="64" y1="66.97" x2="68.8" y2="66.97" stroke="#000" stroke-width="0.8" />
<line x1="331" y1="66.97" x2="326.2" y2="66.97" stroke="#000" stroke-width="0.8" />
<line x1="64" y1="60.77" x2="68.8" y2="60.77" stroke="#000" stroke-width="0.8" />
<line x1="331" y1="60.77" x2="326.2" y2="60.77" stroke="#000" stroke-width="0.8" />
<line x1="64" y1="55.7" x2="68.8" y2="55.7" stroke="#000" stroke-width="0.8" />
<line x1="331" y1="55.7" x2="326.2" y2="55.7" stroke="#000" stroke-width="0.8" />
<line x1="64" y1="51.41" x2="68.8" y2="51.41" stroke="#000" stroke-width="0.8" />
<line x1="331" y1="51.41" x2="326.2" y2="51.41" stroke="#000" stroke-width="0.8" />
<line x1="64" y1="47.7" x2="68.8" y2="47.7" stroke="#000" stroke-width="0.8" />
<line x1="331" y1="47.7" x2="326.2" y2="47.7" stroke="#000" stroke-width="0.8" />
<line x1="64" y1="44.43" x2="68.8" y2="44.43" stroke="#000" stroke-width="0.8" />
<line x1="331" y1="44.43" x2="326.2" y2="44.43" stroke="#000" stroke-width="0.8" />
<line x1="64" y1="41.5" x2="76.6" y2="41.5" stroke="#000" stroke-width="0.8" />
<line x1="331" y1="41.5" x2="318.4" y2="41.5" stroke="#000" stroke-width="0.8" />
<line x1="64" y1="22.23" x2="68.8" y2="22.23" stroke="#000" stroke-width="0.8" />
<line x1="331" y1="22.23" x2="326.2" y2="22.23" stroke="#000" stroke-width="0.8" />
<line x1="64" y1="289.87" x2="67.8" y2="289.87" stroke="#000" stroke-width="0.8" />
<line x1="331" y1="289.87" x2="327.2" y2="289.87" stroke="#000" stroke-width="0.8" />
<line x1="64" y1="288.22" x2="67.8" y2="288.22" stroke="#000" stroke-width="0.8" />
<line x1="331" y1="288.22" x2="327.2" y2="288.22" stroke="#000" stroke-width="0.8" />
<line x1="64" y1="286.56" x2="76.6" y2="286.56" stroke="#000" stroke-width="0.8" />
<line x1="331" y1="286.56" x2="318.4" y2="286.56" stroke="#000" stroke-width="0.8" />
<line x1="64" y1="284.9" x2="67.8" y2="284.9" stroke="#000" stroke-width="0.8" />
<line x1="331" y1="284.9" x2="327.2" y2="284.9" stroke="#000" stroke-width="0.8" />
<line x1="64" y1="283.25" x2="67.8" y2="283.25" stroke="#000" stroke-width="0.8" />
<line x1="331" y1="283.25" x2="327.2" y2="283.25" stroke="#000" stroke-width="0.8" />
<line x1="64" y1="281.59" x2="67.8" y2="281.59" stroke="#000" stroke-width="0.8" />
<line x1="331" y1="281.59" x2="327.2" y2="281.59" stroke="#000" stroke-width="0.8" />
<line x1="64" y1="279.94" x2="67.8" y2="279.94" stroke="#000" stroke-width="0.8" />
<line x1="331" y1="279.94" x2="327.2" y2="279.94" stroke="#000" stroke-width="0.8" />
<line x1="64" y1="278.28" x2="76.6" y2="278.28" stroke="#000" stroke-width="0.8" />
<line x1="331" y1="278.28" x2="318.4" y2="278.28" stroke="#000" stroke-width="0.8" />
<line x1="64" y1="276.62" x2="67.8" y2="276.62" stroke="#000" stroke-width="0.8" />
<line x1="331" y1="276.62" x2="327.2" y2="276.62" stroke="#000" stroke-width="0.8" />
<line x1="64" y1="274.97" x2="67.8" y2="274.97" stroke="#000" stroke-width="0.8" />
<line x1="331" y1="274.97" x2="327.2" y2="274.97" stroke="#000" stroke-width="0.8" />
<line x1="64" y1="273.31" x2="67.8" y2="273.31" stroke="#000" stroke-width="0.8" />
<line x1="331" y1="273.31" x2="327.2" y2="273.31" stroke="#000" stroke-width="0.8" />
<line x1="64" y1="271.66" x2="67.8" y2="271.66" stroke="#000" stroke-width="0.8" />
<line x1="331" y1="271.66" x2="327.2" y2="271.66" stroke="#000" stroke-width="0.8" />
<line x1="64" y1="270" x2="76.6" y2="270" stroke="#000" stroke-width="0.8" />
<line x1="331" y1="270" x2="318.4" y2="270" stroke="#000" stroke-width="0.8" />
<line x1="64" y1="268.34" x2="67.8" y2="268.34" stroke="#000" stroke-width="0.8" />
<line x1="331" y1="268.34" x2="327.2" y2="268.34" stroke="#000" stroke-width="0.8" />
<line x1="64" y1="266.69" x2="67.8" y2="266.69" stroke="#000" stroke-width="0.8" />
<line x1="331" y1="266.69" x2="327.2" y2="266.69" stroke="#000" stroke-width="0.8" />
<line x1="64" y1="265.03" x2="67.8" y2="265.03" stroke="#000" stroke-width="0.8" />
<line x1="331" y1="265.03" x2="327.2" y2="265.03" stroke="#000" stroke-width="0.8" />
<line x1="64" y1="263.38" x2="67.8" y2="263.38" stroke="#000" stroke-width="0.8" />
<line x1="331" y1="263.38" x2="327.2" y2="263.38" stroke="#000" stroke-width="0.8" />
<line x1="64" y1="261.72" x2="76.6" y2="261.72" stroke="#000" stroke-width="0.8" />
<line x1="331" y1="261.72" x2="318.4" y2="261.72" stroke="#000" stroke-width="0.8" />
<line x1="64" y1="260.06" x2="67.8" y2="260.06" stroke="#000" stroke-width="0.8" />
<line x1="331" y1="260.06" x2="327.2" y2="260.06" stroke="#000" stroke-width="0.8" />
<line x1="64" y1="258.41" x2="67.8" y2="258.41" stroke="#000" stroke-width="0.8" />
<line x1="331" y1="258.41" x2="327.2" y2="258.41" stroke="#000" stroke-width="0.8" />
<line x1="64" y1="256.75" x2="67.8" y2="256.75" stroke="#000" stroke-width="0.8" />
<line x1="331" y1="256.75" x2="327.2" y2="256.75" stroke="#000" stroke-width="0.8" />
<line x1="64" y1="255.1" x2="67.8" y2="255.1" stroke="#000" stroke-width="0.8" />
<line x1="331" y1="255.1" x2="327.2" y2="255.1" stroke="#000" stroke-width="0.8" />
<line x1="64" y1="253.44" x2="76.6" y2="253.44" stroke="#000" stroke-width="0.8" />
<line x1="331" y1="253.44" x2="318.4" y2="253.44" stroke="#000" stroke-width="0.8" />
<line x1="64" y1="251.78" x2="67.8" y2="251.78" stroke="#000" stroke-width="0.8" />
<line x1="331" y1="251.78" x2="327.2" y2="251.78" stroke="#000" stroke-width="0.8" />
<line x1="64" y1="250.13" x2="67.8" y2="250.13" stroke="#000" stroke-width="0.8" />
<line x1="331" y1="250.13" x2="327.2" y2="250.13" stroke="#000" stroke-width="0.8" />
<text x="185.6" y="8.4" font-family="'Liberation Serif', serif" font-size="17.5" text-anchor="start" fill="#000" >y</text>
<text x="196.6" y="12.1" font-family="'Liberation Serif', serif" font-size="12" text-anchor="start" fill="#000" textLength="12.4" lengthAdjust="spacingAndGlyphs">23</text>
<text x="34.2" y="46.3" font-family="'Liberation Serif', serif" font-size="12" text-anchor="start" fill="#000" textLength="13.0" lengthAdjust="spacingAndGlyphs">10</text>
<text x="47.8" y="42.5" font-family="'Liberation Serif', serif" font-size="12" text-anchor="start" fill="#000" >2</text>
<text x="34.2" y="110.3" font-family="'Liberation Serif', serif" font-size="12" text-anchor="start" fill="#000" textLength="13.0" lengthAdjust="spacingAndGlyphs">10</text>
<text x="47.8" y="106.5" font-family="'Liberation Serif', serif" font-size="12" text-anchor="start" fill="#000" >1</text>
<text x="34.2" y="174.3" font-family="'Liberation Serif', serif" font-size="12" text-anchor="start" fill="#000" textLength="13.0" lengthAdjust="spacingAndGlyphs">10</text>
<text x="47.8" y="170.5" font-family="'Liberation Serif', serif" font-size="12" text-anchor="start" fill="#000" >0</text>
<text x="24.8" y="238.3" font-family="'Liberation Serif', serif" font-size="12" text-anchor="start" fill="#000" textLength="13.0" lengthAdjust="spacingAndGlyphs">10</text>
<text x="39.2" y="234.3" font-family="'Liberation Serif', serif" font-size="12" text-anchor="start" fill="#000" textLength="8.3" lengthAdjust="spacingAndGlyphs">−</text>
<text x="48.6" y="234.3" font-family="'Liberation Serif', serif" font-size="12" text-anchor="start" fill="#000" >1</text>
<text x="59" y="257.44" font-family="'Liberation Serif', serif" font-size="12" text-anchor="end" fill="#000" letter-spacing="0.55">0.4</text>
<text x="59" y="265.72" font-family="'Liberation Serif', serif" font-size="12" text-anchor="end" fill="#000" letter-spacing="0.55">0.2</text>
<text x="59" y="274" font-family="'Liberation Serif', serif" font-size="12" text-anchor="end" fill="#000" letter-spacing="0.55">0.0</text>
<text x="59" y="282.28" font-family="'Liberation Serif', serif" font-size="12" text-anchor="end" fill="#000" letter-spacing="0.55">−0.2</text>
<text x="59" y="290.56" font-family="'Liberation Serif', serif" font-size="12" text-anchor="end" fill="#000" letter-spacing="0.55">−0.4</text>
<text x="46.8" y="304.6" font-family="'Liberation Serif', serif" font-size="12" text-anchor="start" fill="#000" textLength="13.0" lengthAdjust="spacingAndGlyphs">10</text>
<text x="61.5" y="300.6" font-family="'Liberation Serif', serif" font-size="12" text-anchor="start" fill="#000" >−</text>
<text x="69.3" y="300.6" font-family="'Liberation Serif', serif" font-size="12" text-anchor="start" fill="#000" >5</text>
<text x="106.13" y="304.6" font-family="'Liberation Serif', serif" font-size="12" text-anchor="start" fill="#000" textLength="13.0" lengthAdjust="spacingAndGlyphs">10</text>
<text x="120.83" y="300.6" font-family="'Liberation Serif', serif" font-size="12" text-anchor="start" fill="#000" >−</text>
<text x="128.63" y="300.6" font-family="'Liberation Serif', serif" font-size="12" text-anchor="start" fill="#000" >4</text>
<text x="165.46" y="304.6" font-family="'Liberation Serif', serif" font-size="12" text-anchor="start" fill="#000" textLength="13.0" lengthAdjust="spacingAndGlyphs">10</text>
<text x="180.16" y="300.6" font-family="'Liberation Serif', serif" font-size="12" text-anchor="start" fill="#000" >−</text>
<text x="187.96" y="300.6" font-family="'Liberation Serif', serif" font-size="12" text-anchor="start" fill="#000" >3</text>
<text x="224.79" y="304.6" font-family="'Liberation Serif', serif" font-size="12" text-anchor="start" fill="#000" textLength="13.0" lengthAdjust="spacingAndGlyphs">10</text>
<text x="239.49" y="300.6" font-family="'Liberation Serif', serif" font-size="12" text-anchor="start" fill="#000" >−</text>
<text x="247.29" y="300.6" font-family="'Liberation Serif', serif" font-size="12" text-anchor="start" fill="#000" >2</text>
<text x="284.12" y="304.6" font-family="'Liberation Serif', serif" font-size="12" text-anchor="start" fill="#000" textLength="13.0" lengthAdjust="spacingAndGlyphs">10</text>
<text x="298.82" y="300.6" font-family="'Liberation Serif', serif" font-size="12" text-anchor="start" fill="#000" >−</text>
<text x="306.62" y="300.6" font-family="'Liberation Serif', serif" font-size="12" text-anchor="start" fill="#000" >1</text>
<g transform="translate(9.8,166.4) rotate(-90)">
<text x="-1.3" y="0" font-family="'Liberation Serif', serif" font-size="12" text-anchor="start" fill="#000" >1</text>
<line x1="5" y1="2.5" x2="11.6" y2="-8.6" stroke="#000" stroke-width="0.85" />
<text x="11.7" y="0" font-family="'Liberation Serif', serif" font-size="12" text-anchor="start" fill="#000" >N</text>
<text x="21.3" y="0" font-family="'Liberation Serif', serif" font-size="12" text-anchor="start" fill="#000" textLength="6.6" lengthAdjust="spacingAndGlyphs">d</text>
<text x="28.8" y="0" font-family="'Liberation Serif', serif" font-size="12" text-anchor="start" fill="#000" >N</text>
<line x1="36.2" y1="2.5" x2="43.3" y2="-8.8" stroke="#000" stroke-width="0.85" />
<text x="43.4" y="0" font-family="'Liberation Serif', serif" font-size="12" text-anchor="start" fill="#000" textLength="6.6" lengthAdjust="spacingAndGlyphs">d</text>
<text x="50.8" y="0" font-family="'Liberation Serif', serif" font-size="12" text-anchor="start" fill="#000" >y</text>
<text x="57.3" y="3.3" font-family="'Liberation Serif', serif" font-size="7.5" text-anchor="start" fill="#000" font-weight="bold" textLength="9" lengthAdjust="spacingAndGlyphs">23</text>
</g>
<g transform="translate(7.8,291.8) rotate(-90)">
<text x="0" y="0" font-family="'Liberation Sans', sans-serif" font-size="6.3" text-anchor="start" fill="#000" font-weight="bold" textLength="45" lengthAdjust="spacingAndGlyphs">(MC−data)/data</text>
</g>
</svg>
</body></html>
